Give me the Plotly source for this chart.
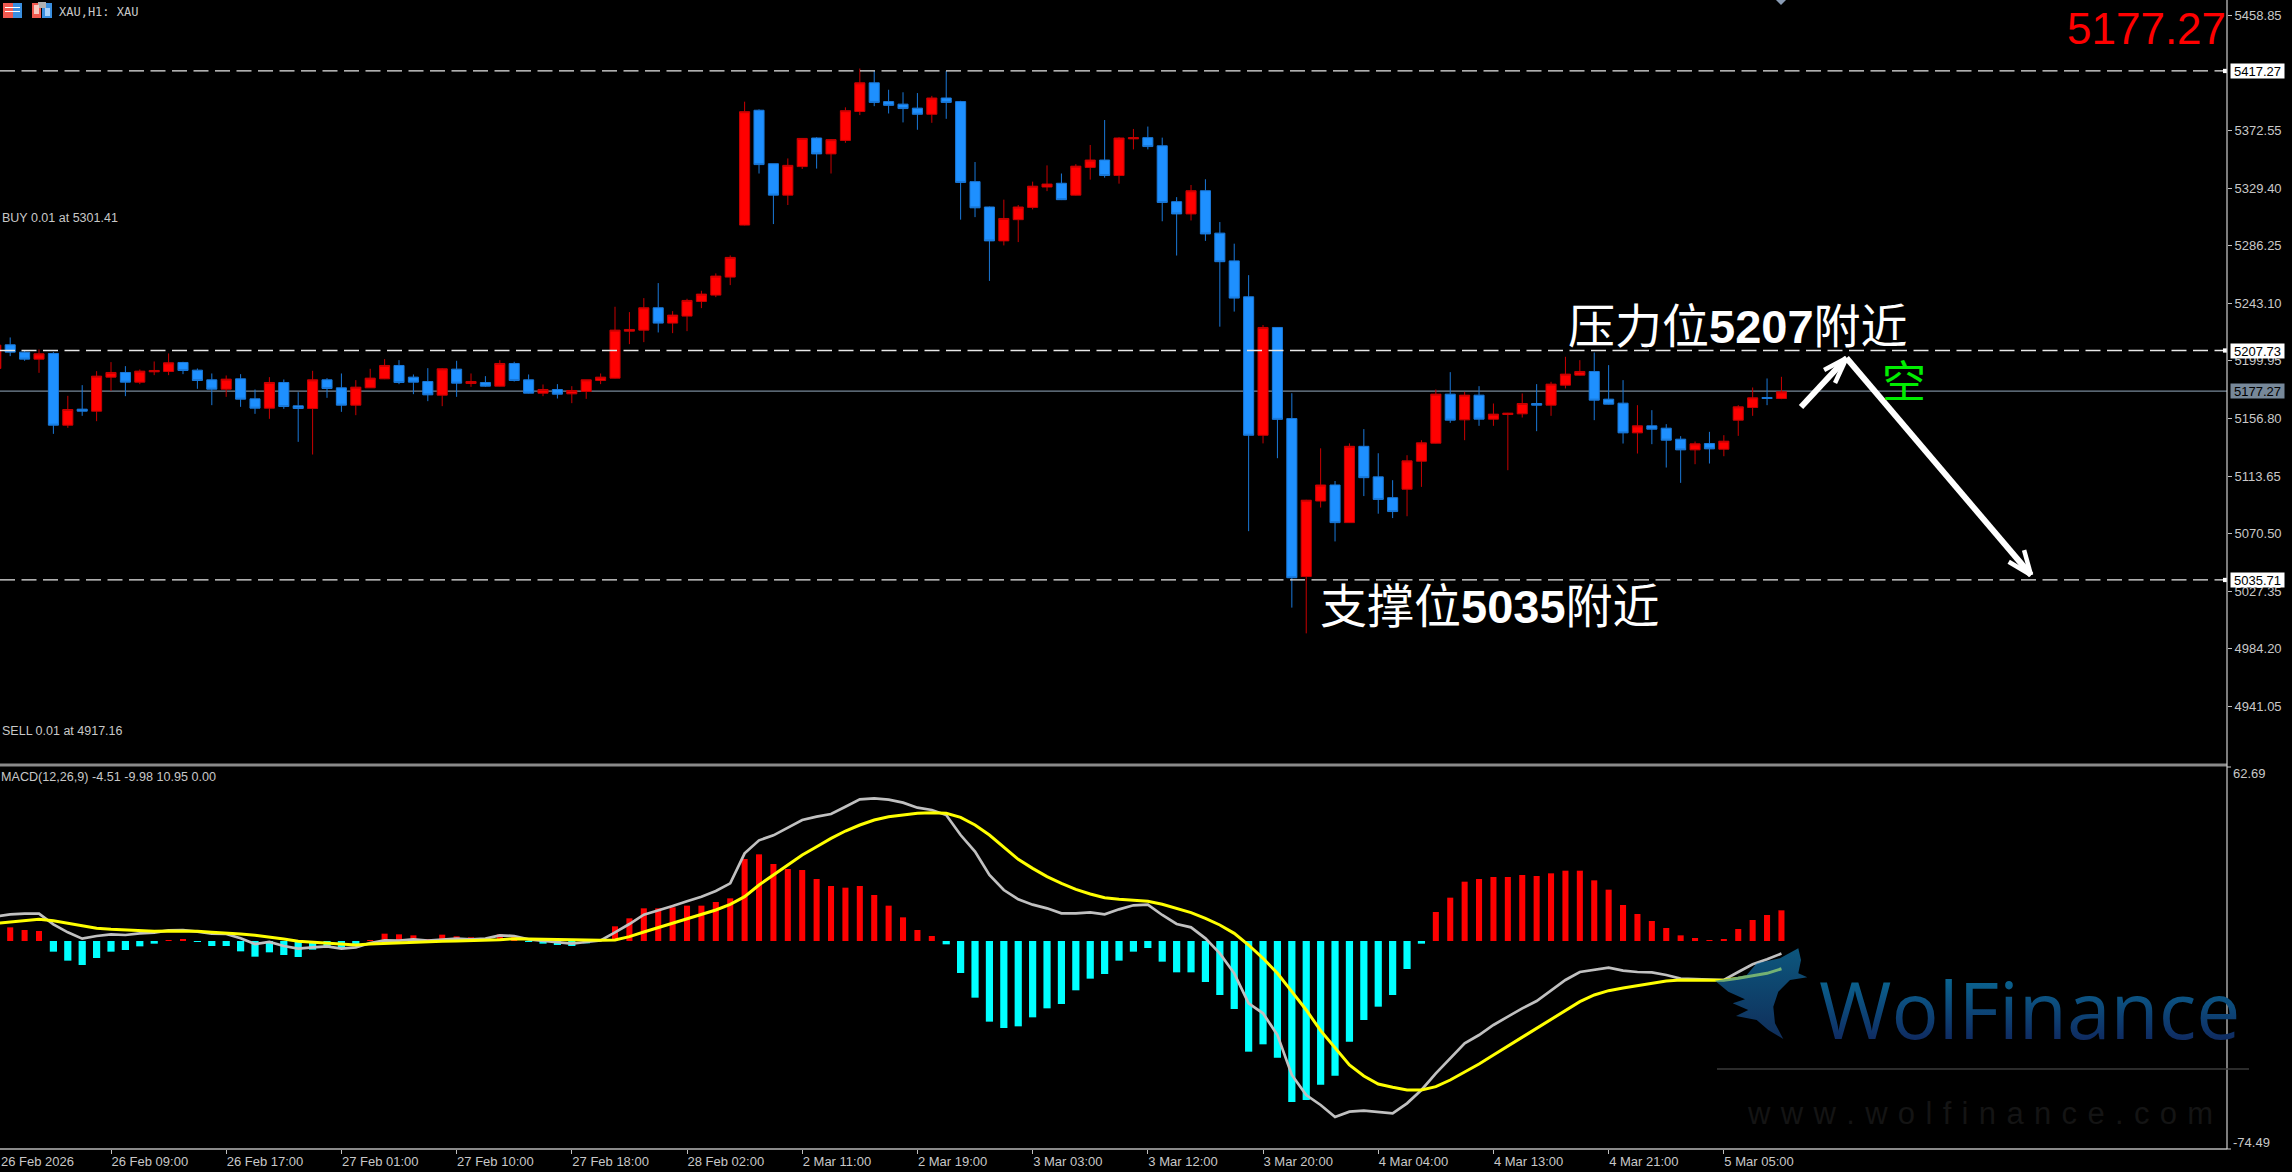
import plotly.graph_objects as go

BARS = list(range(-1, 124))
OPEN = [5194.25,5212,5206.5,5201.25,5205.5,5151.75,5163.75,5162.25,5187.75,5191.25,5184,5191.75,5192,5198.75,5193,5185.75,5178.75,5186.5,5171.5,5164.5,5183.75,5166.25,5164.25,5185.75,5179.75,5166.75,5179.75,5186.5,5196.5,5187.75,5184.5,5174.25,5193.75,5183,5183.75,5181,5198,5185.75,5175.75,5178.5,5175.25,5177,5185.25,5187,5222.25,5223,5239.75,5228.25,5233.5,5244.5,5249.25,5262.75,5301.75,
5387.85,5347.75,5324.2,5345.6,5367,5355.1,5365.2,5386.9,5408.4,5394.3,5392.4,5389.4,5384.8,5397,5394.3,5334.3,5315.3,5289.9,5305.8,5315,5330.3,5333.1,5324.2,5345,5350.5,5338.9,5366.4,5367.3,5361.2,5319.3,5310.1,5327.5,5295.7,5274.9,5248,5144.2,5225,5156.7,5038.3,5094.9,5106.9,5078.7,5135.9,5113,5097.4,
5103.75,5124.75,5138.25,5175,5155.75,5174.25,5156.25,5159.75,5160.25,5168,5166.75,5181.75,5189.25,5192,5171.25,5168.25,5146,5151.25,5149.5,5141.25,5133.25,5138,5133.75,5155.5,5165,5172.5,5171.75]
HIGH = [5212.5,5217.5,5207.5,5208.5,5206.5,5173.75,5181.75,5192.25,5199,5196,5193.5,5199.5,5205.5,5199.25,5194.25,5190.5,5189,5190,5178.5,5187.75,5186,5176.5,5192.5,5187,5190.5,5185.5,5194,5201.25,5200.5,5189.75,5194.5,5194.5,5200,5190.5,5188.5,5200.5,5199.25,5189.75,5182.25,5182.5,5181,5185.75,5190.5,5240.5,5236.5,5247,5258.25,5237.25,5246.5,5252.5,5265.5,5279,5394.25,
5388.5,5347.75,5351.7,5367,5367.6,5366.1,5390,5419.1,5417.2,5403.2,5401.3,5400.7,5398.6,5417.2,5394.9,5349,5315.6,5320.8,5316.8,5334.3,5346.5,5340.4,5347.4,5361.8,5380.5,5367.6,5373.8,5375.6,5367.3,5322.7,5331.8,5336.1,5304,5287.8,5264.2,5226.8,5225.3,5175.7,5095.8,5134.4,5109.9,5138.1,5148.8,5130.7,5110.5,
5129.25,5140.5,5178.5,5191.5,5176.75,5181,5168,5161,5175.5,5182.5,5184.25,5203,5200.5,5206.25,5196.75,5185.5,5166.75,5163,5152.5,5143.5,5139.5,5146.75,5144.25,5166.75,5180,5186.75,5188]
LOW = [5193,5203.5,5200,5191,5145.25,5149.75,5158.75,5154.75,5177.5,5173.5,5182.5,5189.25,5189.25,5190,5179,5166.75,5173,5165.5,5160.25,5156.5,5164,5139.25,5129.75,5172.25,5161.75,5159.25,5179.75,5186.25,5182.5,5175,5169.75,5166,5173,5180.5,5180.5,5180.75,5184.5,5175.5,5173.5,5171.75,5168.25,5171.5,5182.5,5186.75,5212.5,5214,5221.25,5220.75,5222.25,5239.5,5247.75,5256.75,5301.5,
5340.4,5302.5,5316.8,5343.8,5344.1,5340.4,5363.4,5384.2,5390.9,5385.4,5378.7,5373.2,5378.4,5381.4,5305.8,5307.7,5259.9,5286.5,5289,5313.5,5327.2,5320.5,5323.9,5335.8,5337.3,5332.8,5358.5,5358.5,5304.6,5278.9,5305.2,5289.9,5225.6,5236.9,5072.3,5138.1,5127,5015,4995.7,5090,5064.6,5078.4,5098.6,5085.4,5082.1,
5083.5,5105.5,5138,5153.5,5140.5,5151.25,5151.25,5118,5157.5,5147.25,5158.75,5179.25,5189,5155.5,5167.25,5138,5130.5,5137.5,5120,5108.5,5122.5,5123,5128.5,5143.75,5158.75,5166.75,5171.25]
CLOSE = [5211.75,5206.5,5201.25,5205.25,5151.75,5163.5,5162.25,5188.5,5191.25,5184,5192.25,5192.75,5198.5,5192.75,5185.25,5178.75,5186.25,5171.25,5164.5,5183.75,5165.75,5164.25,5185.75,5179.25,5166.75,5180.25,5187,5196.5,5183.75,5184,5174.5,5194,5183.25,5184.5,5181,5198,5185.25,5175.75,5178.5,5175,5177.75,5185.75,5187.75,5223,5223.5,5239.75,5228.25,5234.25,5245.25,5250,5263.5,5277.5,5386.75,
5347.1,5324.2,5346.5,5366.7,5355.1,5365.8,5387.5,5408.4,5393.7,5391.5,5389.1,5384.8,5397,5393.7,5333.7,5314.7,5289.9,5306.7,5315.3,5330.9,5332.5,5320.8,5345.9,5350.5,5338.9,5367,5367.3,5360.6,5318.7,5310.1,5327.5,5295.1,5274.3,5247,5144.2,5225,5156.1,5037.4,5095.5,5106.9,5078.7,5135.9,5112.4,5096.1,5087,
5125,5138.5,5175,5155.5,5174.25,5156.25,5160,5160.75,5168,5166.75,5182.5,5190,5192,5170.5,5167.5,5146,5151.25,5148.75,5140.5,5133.25,5137.75,5134,5139.75,5165.5,5172.25,5171.75,5176.75]

HIST_BARS = list(range(0, 124))
HIST = [4.9,3.95,3.6,-3.83,-7.06,-8.62,-6.1,-3.83,-3.23,-1.92,-0.96,0.24,0.6,-0.24,-1.8,-1.8,-3.71,-5.63,-4.07,-5.03,-5.75,-3.11,-2.15,-2.87,-1.56,0.1,2.63,2.39,2.03,0.6,2.27,1.68,1.32,0.72,2.39,1.68,-0.24,-0.96,-1.44,-1.8,-0.84,0.24,5.27,8.14,11.73,11.73,12.09,12.69,12.69,14,15.32,29.44,31.12,27.65,25.85,25.49,22.26,19.75,19.15,19.75,16.52,12.69,
8.5,3.95,1.8,-1.2,-11.49,-20.35,-28.96,-31.24,-30.64,-27.41,-24.18,-22.62,-17.71,-13.52,-11.85,-7.06,-3.83,-2.51,-7.42,-11.25,-11.25,-14.72,-19.39,-24.42,-39.74,-37.1,-41.89,-57.81,-57.09,-51.59,-48.35,-36.15,-28.37,-23.58,-19.39,-10.05,-0.96,10.41,15.56,21.3,22.26,22.98,22.98,23.7,23.34,24.3,25.25,25.25,21.78,18.43,12.93,9.69,7.18,4.67,2.03,1.08,0.12,0.6,4.31,7.54,9.34,11.01]
MACD = [8.74,9.58,9.81,9.81,5.98,3.11,0.84,1.8,2.39,2.15,2.75,2.99,3.83,3.95,3.35,2.63,2.51,0.96,-1.08,-0.36,-1.8,-2.75,-2.27,-1.92,-2.75,-2.27,-0.72,0.24,0.12,0.6,0.12,0.6,0.84,0.6,0.84,2.03,1.8,0.6,0.12,-0.24,-0.96,-0.36,0.24,3.11,6.1,9.46,10.89,12.57,14.24,15.92,17.95,20.71,31.48,36.15,37.94,40.69,43.45,44.64,45.6,48.23,50.87,51.23,50.75,
49.67,47.88,47.04,45.24,38.06,32.08,23.7,18.31,14.96,13.05,11.73,9.93,9.93,10.29,9.58,11.37,12.81,13.05,9.34,6.1,4.91,0.96,-4.43,-11.61,-22.38,-25.97,-33.75,-48.11,-55.3,-58.89,-63.2,-61.28,-60.92,-61.28,-61.88,-58.29,-53.5,-47.52,-42.13,-36.74,-33.75,-30.16,-27.17,-24.18,-21.54,-17.83,-14,-11.13,-10.29,-9.58,-10.65,-11.13,-11.25,-12.21,-13.52,-13.76,-14,-14,-11.13,-8.38,-6.58,-4.51]
SIGNAL = [6.34,6.82,7.42,7.78,7.3,6.34,5.51,4.55,4.19,3.95,3.47,3.47,3.59,3.59,3.47,3.11,2.87,2.51,2.03,1.44,0.72,-0.12,-0.48,-0.84,-1.2,-1.44,-1.08,-0.84,-0.6,-0.36,-0.24,-0.12,0,0.12,0.24,0.48,0.84,0.72,0.6,0.48,0.24,0.24,0.24,0.36,1.56,3.23,4.79,6.34,7.9,9.46,11.13,13.17,15.92,20.11,23.7,27.29,30.88,33.87,36.86,39.5,41.65,43.45,44.64,
45.24,45.84,46.08,45.84,44.4,41.65,38.06,33.63,29.32,26.09,23.1,20.71,18.55,16.88,15.56,14.96,14.6,14.24,13.17,11.73,10.17,8.14,5.75,2.75,-1.44,-6.22,-11.61,-18.19,-24.78,-32.2,-38.54,-44.52,-48.47,-51.35,-52.54,-53.5,-53.5,-52.3,-49.91,-47.16,-44.16,-40.93,-37.7,-34.59,-31.36,-28.13,-24.78,-21.78,-19.39,-17.83,-16.88,-16.04,-14.96,-14.36,-14,-14,-14.12,-14.12,-13.4,-12.57,-11.61,-9.98]

PRICE_TICKS = [5458.85,5372.55,5329.40,5286.25,5243.10,5199.95,5156.80,5113.65,5070.50,5027.35,4984.20,4941.05]
TIME_TICKS = [7,15,23,31,39,47,55,63,71,79,87,95,103,111,119]
TIME_LABELS = ["26 Feb 09:00","26 Feb 17:00","27 Feb 01:00","27 Feb 10:00","27 Feb 18:00","28 Feb 02:00","2 Mar 11:00","2 Mar 19:00","3 Mar 03:00","3 Mar 12:00","3 Mar 20:00","4 Mar 04:00","4 Mar 13:00","4 Mar 21:00","5 Mar 05:00"]
FIRST_LABEL = "26 Feb 2026"
LEVELS = [5417.27, 5207.73, 5035.71]
LAST_PRICE = 5177.27
ARROW_UP = [(124.36,5165.4),(127.52,5202.1)]
ARROW_UP_BARBS = [(125.96,5193.1),(126.72,5183.4)]
ARROW_DOWN = [(127.52,5202.1),(140.33,5039.4)]
ARROW_DOWN_BARBS = [(138.78,5049.4),(139.85,5058.1)]

W, H = 2292, 1172
PX = lambda x: x / W
PY = lambda y: 1 - y / H
AXIS_X = 2227
LBL = "#c8c8c8"
FONT = "Liberation Sans"

fig = go.Figure()

fig.add_trace(go.Candlestick(
    x=BARS, open=OPEN, high=HIGH, low=LOW, close=CLOSE, xaxis="x", yaxis="y",
    whiskerwidth=0,
    increasing=dict(fillcolor="#ff0000", line=dict(color="#c80000", width=1)),
    decreasing=dict(fillcolor="#1e90ff", line=dict(color="#1a78d8", width=1)),
    showlegend=False,
))
fig.add_trace(go.Bar(
    x=HIST_BARS, y=HIST, xaxis="x", yaxis="y2",
    marker=dict(color=["#ff0000" if v > 0 else "#00ffff" for v in HIST], line=dict(width=0)),
    width=[0.42 if v > 0 else 0.5 for v in HIST], showlegend=False,
))
fig.add_trace(go.Scatter(x=BARS, y=MACD, xaxis="x", yaxis="y2", mode="lines",
                         line=dict(color="#c0c0c0", width=2.7), showlegend=False))
fig.add_trace(go.Scatter(x=BARS, y=SIGNAL, xaxis="x", yaxis="y2", mode="lines",
                         line=dict(color="#ffff00", width=3), showlegend=False))

shapes = []
shapes.append(dict(type="line", xref="x domain", x0=0, x1=1, yref="y", y0=LAST_PRICE, y1=LAST_PRICE,
                   line=dict(color="#778899", width=1.3), layer="below"))
for lv in LEVELS:
    shapes.append(dict(type="line", xref="x domain", x0=0, x1=1, yref="y", y0=lv, y1=lv,
                       line=dict(color="#e8e8e8", width=1.3, dash="15px,6.5px"), layer="above"))
    shapes.append(dict(type="rect", xref="paper", x0=PX(AXIS_X - 4), x1=PX(AXIS_X), yref="y",
                       y0=lv - 1.6, y1=lv + 1.6, fillcolor="#ffffff", line=dict(width=0)))
for a, b in [ARROW_UP, ARROW_DOWN]:
    shapes.append(dict(type="line", xref="x", yref="y", x0=a[0], y0=a[1], x1=b[0], y1=b[1],
                       line=dict(color="#ffffff", width=6)))
shapes += [dict(type="line", xref="x", yref="y", x0=ARROW_UP[1][0], y0=ARROW_UP[1][1], x1=b[0], y1=b[1],
                line=dict(color="#ffffff", width=4.5)) for b in ARROW_UP_BARBS]
shapes += [dict(type="line", xref="x", yref="y", x0=ARROW_DOWN[1][0], y0=ARROW_DOWN[1][1], x1=b[0], y1=b[1],
                line=dict(color="#ffffff", width=4.5)) for b in ARROW_DOWN_BARBS]


def paper_line(x0, y0, x1, y1, color, width):
    return dict(type="line", xref="paper", yref="paper", x0=PX(x0), x1=PX(x1), y0=PY(y0), y1=PY(y1),
                line=dict(color=color, width=width))


def paper_rect(x0, y0, x1, y1, color):
    return dict(type="rect", xref="paper", yref="paper", x0=PX(x0), x1=PX(x1), y0=PY(y0), y1=PY(y1),
                fillcolor=color, line=dict(width=0))


def paper_poly(points, color, **kw):
    path = "M " + " L ".join(f"{PX(x):.5f},{PY(y):.5f}" for x, y in points) + " Z"
    return dict(type="path", xref="paper", yref="paper", path=path, fillcolor=color, line=dict(width=0), **kw)


shapes.append(paper_line(0, 765, AXIS_X, 765, "#8a8a8a", 3))
shapes.append(paper_line(0, 1149, AXIS_X, 1149, "#8a8a8a", 2))
shapes.append(paper_line(AXIS_X, 0, AXIS_X, 1149, "#d0d0d0", 1.2))
shapes.append(paper_line(AXIS_X, 767, AXIS_X + 4, 767, "#d0d0d0", 1))
shapes.append(paper_line(AXIS_X, 1149, AXIS_X + 4, 1149, "#d0d0d0", 1))
shapes.append(paper_poly([(1776, 0), (1786, 0), (1781, 5)], "#8a9cb4"))
# title-bar icons
shapes += [paper_rect(3, 3, 13, 18, "#f05a50"), paper_rect(13, 3, 22, 18, "#3a8fe0"),
           paper_rect(5, 7, 20, 8, "#ffffff"), paper_rect(5, 11, 20, 12, "#ffffff"),
           paper_rect(32, 3, 41, 18, "#f05a50"), paper_rect(42, 3, 52, 18, "#3a8fe0"),
           paper_rect(38, 2, 46, 8, "#b0b0b0"), paper_rect(34, 5, 39, 14, "#f8c8c0"), paper_rect(45, 8, 50, 16, "#a8d0f8")]
# watermark wing
wing = [(1798.3,948.3),(1801,960),(1798.3,973.3),(1807.3,977.3),(1790,980),(1778.3,991.7),(1773.3,1006.7),
        (1775,1023.3),(1783.3,1039),(1768.3,1030),(1756.7,1020),(1736,1016),(1748.3,1010),(1732.7,1003.3),
        (1745,999.3),(1728.3,991.7),(1715,980.7),(1730,978.3),(1746.7,975),(1756.7,963.3),(1780,958.3)]
shapes.append(paper_poly(wing, "#1a7cbc", opacity=0.6, layer="above"))
shapes.append(paper_line(1717, 1069, 2249, 1069, "#3a3a3a", 1.5))


def note(x, y, text, size, color=LBL, anchor="left", **kw):
    return dict(xref="paper", yref="paper", x=PX(x), y=PY(y), text=text, showarrow=False,
                xanchor=anchor, yanchor="middle", font=dict(family=kw.pop("family", FONT), size=size, color=color), **kw)


CJK = 'Liberation Sans, "Noto Sans CJK SC"'
annotations = [
    note(2065, 29, "5177.27", 44, "#ff0000"),
    note(57, 12, "XAU,H1: XAU", 12, LBL, family="DejaVu Sans Mono"),
    note(0, 218, "BUY 0.01 at 5301.41", 12.5),
    note(0, 731, "SELL 0.01 at 4917.16", 12.5),
    note(-1, 777, "MACD(12,26,9) -4.51 -9.98 10.95 0.00", 12.6),
    note(-1, 1161, FIRST_LABEL, 13),
    note(1566, 326, "压力位<b>5207</b>附近", 47, "#ffffff", family=CJK),
    note(1318, 606, "支撑位<b>5035</b>附近", 47, "#ffffff", family=CJK),
    note(1880, 382, "空", 44, "#00ee00", family=CJK),
    note(2231, 773, "62.69", 13),
    note(2231, 1142, "-74.49", 13),
    note(1817, 1008, "WolFinance", 78.5, "#0d4a78", family="Open Sans"),
    note(1745, 1113, "\u2004".join("www.wolfinance.com"), 31, "#141414"),
]
for lv in LEVELS + [LAST_PRICE]:
    bg = "#778899" if lv == LAST_PRICE else "#ffffff"
    annotations.append(dict(xref="paper", yref="y", x=PX(2230), y=lv, text=f"{lv:.2f}", showarrow=False,
                            xanchor="left", yanchor="middle", width=53, height=14, align="center",
                            bgcolor=bg, borderpad=0, font=dict(family=FONT, size=13, color="#000000")))

fig.update_layout(
    width=W, height=H, margin=dict(l=0, r=0, t=0, b=0, pad=0),
    paper_bgcolor="#000000", plot_bgcolor="#000000",
    showlegend=False, boxgap=0.3, boxgroupgap=0, barmode="overlay",
    xaxis=dict(domain=[0, PX(AXIS_X)], range=[-0.708, 153.94], anchor="y2", rangeslider=dict(visible=False),
               showgrid=False, zeroline=False, showline=False,
               tickmode="array", tickvals=TIME_TICKS, ticktext=TIME_LABELS, ticks="outside", ticklen=4,
               tickcolor="#c0c0c0", ticklabelposition="outside right",
               tickfont=dict(family=FONT, size=13, color=LBL)),
    yaxis=dict(domain=[PY(764), 1], range=[4897.76, 5470.47], anchor="x", side="right",
               showgrid=False, zeroline=False, showline=False,
               tickmode="array", tickvals=PRICE_TICKS, ticktext=[f"{v:.2f}" for v in PRICE_TICKS],
               ticks="outside", ticklen=4, tickcolor="#c0c0c0",
               tickfont=dict(family=FONT, size=13, color=LBL)),
    yaxis2=dict(domain=[PY(1149), PY(767)], range=[-74.69, 62.48], anchor="x", side="right",
                showgrid=False, zeroline=False, showline=False, showticklabels=False, ticks=""),
    shapes=shapes, annotations=annotations,
)

POST = """
document.body.style.margin='0';document.documentElement.style.background='#000';
var svgs=document.querySelectorAll('svg.main-svg');
function grad(root,id,a,b,y1,y2){
  var ns='http://www.w3.org/2000/svg';
  var d=root.querySelector('defs')||root.insertBefore(document.createElementNS(ns,'defs'),root.firstChild);
  var g=document.createElementNS(ns,'linearGradient');g.setAttribute('id',id);
  g.setAttribute('x1','0');g.setAttribute('x2','0');g.setAttribute('y1',y1);g.setAttribute('y2',y2);
  [['0',a],['1',b]].forEach(function(s){var t=document.createElementNS(ns,'stop');t.setAttribute('offset',s[0]);t.setAttribute('stop-color',s[1]);g.appendChild(t);});
  d.appendChild(g);
}
svgs.forEach(function(s){
  s.querySelectorAll('.annotation-text').forEach(function(t){
    if(t.textContent==='WolFinance'){grad(s,'gt','#0a6490','#0f2c62','0.22','0.78');t.style.fill='url(#gt)';}
  });
  s.querySelectorAll('.shapelayer path').forEach(function(p){
    if(p.style.fill==='rgb(26, 124, 188)'){grad(s,'gw','#1590d0','#1a4c96','0','1');p.style.fill='url(#gw)';}
  });
});
"""
fig.write_html("out.html", config=dict(displayModeBar=False), post_script=POST)
